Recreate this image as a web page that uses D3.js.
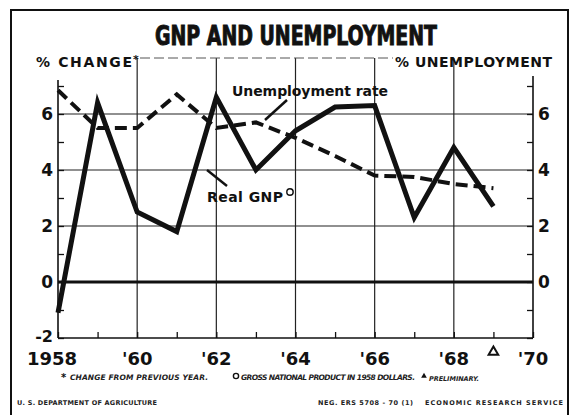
<!DOCTYPE html>
<html lang="en">
<head>
  <meta charset="UTF-8">
  <title>GNP and Unemployment</title>
  <script src="https://d3js.org/d3.v7.min.js"></script>
  <style>
    body { margin: 0; background: #fff; overflow: hidden; }
    svg { display: block; }
    .lbl { font-family: "DejaVu Sans", sans-serif; font-weight: bold; fill: #111; }
    .note { font-family: "DejaVu Sans", sans-serif; font-weight: bold; font-style: italic; fill: #222; }
  </style>
</head>
<body>
<svg id="chart" width="575" height="415"></svg>
<script>
// data
const years = [1958, 1959, 1960, 1961, 1962, 1963, 1964, 1965, 1966, 1967, 1968, 1969];
const gnpChange = [-1.1, 6.4, 2.5, 1.8, 6.6, 4.0, 5.4, 6.25, 6.3, 2.3, 4.8, 2.7];
const unemployment = [6.85, 5.5, 5.5, 6.7, 5.5, 5.7, 5.15, 4.5, 3.8, 3.75, 3.5, 3.35];
const yearTicks = [1958, 1960, 1962, 1964, 1966, 1968, 1970];
const yearLabels = ["1958", "'60", "'62", "'64", "'66", "'68", "'70"];
const valueTicks = [-2, 0, 2, 4, 6];

const svg = d3.select("#chart");
svg.append("rect").attr("width", 575).attr("height", 415).attr("fill", "#fff");

const x = d3.scaleLinear().domain([1958, 1970]).range([58, 533]);
const y = d3.scaleLinear().domain([-2, 8]).range([338, 58]);

// outer frame
svg.append("rect")
  .attr("x", 11).attr("y", 10).attr("width", 557).attr("height", 420)
  .attr("fill", "none").attr("stroke", "#111").attr("stroke-width", 2);

// title
svg.append("text").attr("class", "lbl")
  .attr("x", 296).attr("y", 45).attr("text-anchor", "middle")
  .style("font-family", "'DejaVu Sans Condensed', sans-serif")
  .style("font-size", "27px").style("font-weight", 900)
  .attr("stroke", "#111").attr("stroke-width", 1)
  .attr("textLength", 282).attr("lengthAdjust", "spacingAndGlyphs")
  .text("GNP AND UNEMPLOYMENT");

// grid
const grid = svg.append("g").attr("stroke", "#222").attr("stroke-width", 1.2);
grid.selectAll(".gx").data(yearTicks.slice(1, -1)).join("line")
  .attr("x1", d => x(d)).attr("x2", d => x(d))
  .attr("y1", y(8)).attr("y2", y(-2));
grid.selectAll(".gy").data([2, 4, 6]).join("line")
  .attr("x1", x(1958)).attr("x2", x(1970))
  .attr("y1", d => y(d)).attr("y2", d => y(d));

// top edge, faint and broken
svg.append("line")
  .attr("x1", 140).attr("x2", 393).attr("y1", y(8)).attr("y2", y(8))
  .attr("stroke", "#555").attr("stroke-width", 1).attr("stroke-dasharray", "10 4");

// axes
const leftAxis = d3.axisRight(y).tickValues(d3.range(-2, 8, 1)).tickSize(6).tickFormat("");
svg.append("g").attr("transform", `translate(${x(1958)},0)`).call(leftAxis)
  .call(g => g.select(".domain").remove());
const rightAxis = d3.axisLeft(y).tickValues(d3.range(-2, 8, 1)).tickSize(6).tickFormat("");
svg.append("g").attr("transform", `translate(${x(1970)},0)`).call(rightAxis)
  .call(g => g.select(".domain").remove());
const bottomAxis = d3.axisTop(x).tickValues(d3.range(1958, 1971, 1)).tickSize(6).tickFormat("");
svg.append("g").attr("transform", `translate(0,${y(-2)})`).call(bottomAxis)
  .call(g => g.select(".domain").remove());
svg.selectAll(".tick line").attr("stroke", "#111").attr("stroke-width", 1.3);

const frame = svg.append("g").attr("stroke", "#111").attr("stroke-width", 1.6);
frame.append("line").attr("x1", x(1958)).attr("x2", x(1958)).attr("y1", 80).attr("y2", y(-2));
frame.append("line").attr("x1", x(1970)).attr("x2", x(1970)).attr("y1", 76).attr("y2", y(-2));
frame.append("line").attr("x1", x(1958)).attr("x2", x(1970)).attr("y1", y(-2)).attr("y2", y(-2));

// zero line
svg.append("line")
  .attr("x1", x(1958)).attr("x2", x(1970)).attr("y1", y(0)).attr("y2", y(0))
  .attr("stroke", "#111").attr("stroke-width", 3);

// tick labels
svg.selectAll(".ly").data(valueTicks).join("text").attr("class", "lbl")
  .attr("x", 53).attr("y", d => y(d) + (d === -2 ? 4 : 6)).attr("text-anchor", "end")
  .style("font-size", d => d === -2 ? "16px" : "17px").text(d => d);
svg.selectAll(".ry").data(valueTicks.slice(1)).join("text").attr("class", "lbl")
  .attr("x", 538).attr("y", d => y(d) + 6)
  .style("font-size", "17px").text(d => d);
svg.selectAll(".lx").data(yearTicks).join("text").attr("class", "lbl")
  .attr("x", (d, i) => x(d) - (i === 0 ? 6 : 0)).attr("y", 365).attr("text-anchor", "middle")
  .style("font-size", "18px").text((d, i) => yearLabels[i]);

// preliminary marker
svg.append("path")
  .attr("d", d3.symbol(d3.symbolTriangle, 40)())
  .attr("transform", `translate(${x(1969)},352)`)
  .attr("fill", "none").attr("stroke", "#111").attr("stroke-width", 2);

// axis titles
svg.append("text").attr("class", "lbl").attr("x", 36).attr("y", 67)
  .style("font-size", "14px").attr("textLength", 96).text("% CHANGE");
svg.append("text").attr("class", "lbl").attr("x", 133).attr("y", 63)
  .style("font-size", "11px").text("*");
svg.append("text").attr("class", "lbl").attr("x", 395).attr("y", 67)
  .style("font-size", "14px").attr("textLength", 157).text("% UNEMPLOYMENT");

// series
const line = d3.line().x((d, i) => x(years[i])).y(d => y(d));
svg.append("path").datum(unemployment)
  .attr("d", line).attr("fill", "none")
  .attr("stroke", "#111").attr("stroke-width", 4).attr("stroke-dasharray", "12 6");
svg.append("path").datum(gnpChange)
  .attr("d", line).attr("fill", "none")
  .attr("stroke", "#111").attr("stroke-width", 5).attr("stroke-linejoin", "miter");

// series labels with leader lines
svg.append("text").attr("class", "lbl").attr("x", 232).attr("y", 96)
  .style("font-size", "14px").attr("textLength", 156).text("Unemployment rate");
svg.append("line").attr("x1", 287).attr("y1", 100).attr("x2", 265).attr("y2", 120)
  .attr("stroke", "#111").attr("stroke-width", 2.5);
svg.append("text").attr("class", "lbl").attr("x", 207).attr("y", 202)
  .style("font-size", "14px").attr("textLength", 76).text("Real GNP");
svg.append("circle").attr("cx", 290).attr("cy", 192).attr("r", 3.2)
  .attr("fill", "none").attr("stroke", "#111").attr("stroke-width", 1.4);
svg.append("line").attr("x1", 207).attr("y1", 170).attr("x2", 227).attr("y2", 186)
  .attr("stroke", "#111").attr("stroke-width", 2.5);

// footnotes
svg.append("text").attr("class", "lbl").attr("x", 61).attr("y", 381)
  .style("font-size", "10px").text("*");
svg.append("text").attr("class", "note").attr("x", 70).attr("y", 380)
  .style("font-size", "7.5px").attr("textLength", 138).text("CHANGE FROM PREVIOUS YEAR.");
svg.append("circle").attr("cx", 236).attr("cy", 376).attr("r", 2.6)
  .attr("fill", "none").attr("stroke", "#111").attr("stroke-width", 1.4);
svg.append("text").attr("class", "note").attr("x", 241).attr("y", 380)
  .style("font-size", "7.5px").attr("textLength", 174).text("GROSS NATIONAL PRODUCT IN 1958 DOLLARS.");
svg.append("path")
  .attr("d", d3.symbol(d3.symbolTriangle, 14)())
  .attr("transform", "translate(424,376)").attr("fill", "#111");
svg.append("text").attr("class", "note").attr("x", 429).attr("y", 381)
  .style("font-size", "6.5px").attr("textLength", 50).text("PRELIMINARY.");

svg.append("text").attr("class", "note").attr("x", 17).attr("y", 405)
  .style("font-size", "6.5px").style("font-style", "normal")
  .attr("textLength", 140).text("U. S. DEPARTMENT OF AGRICULTURE");
svg.append("text").attr("class", "note").attr("x", 318).attr("y", 405)
  .style("font-size", "6.5px").style("font-style", "normal")
  .attr("textLength", 95).text("NEG. ERS 5708 - 70 (1)");
svg.append("text").attr("class", "note").attr("x", 425).attr("y", 405)
  .style("font-size", "6.5px").style("font-style", "normal")
  .attr("textLength", 138).text("ECONOMIC RESEARCH SERVICE");
</script>
</body>
</html>
